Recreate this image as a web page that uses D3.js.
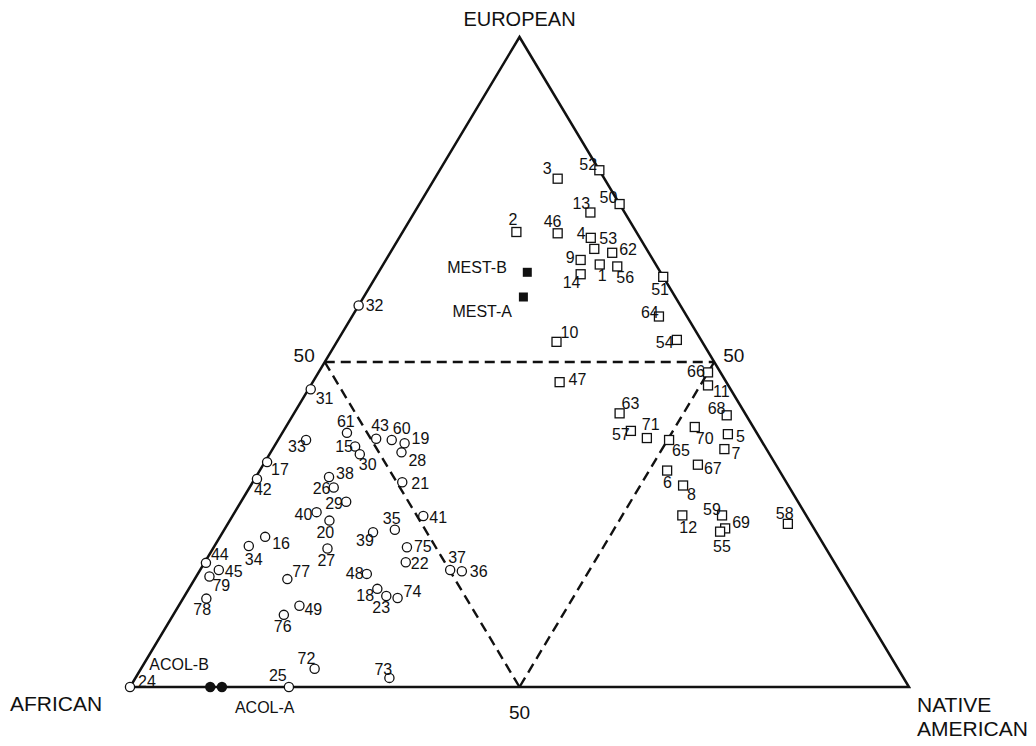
<!DOCTYPE html>
<html>
<head>
<meta charset="utf-8">
<script src="https://cdn.jsdelivr.net/npm/d3@7"></script>
<style>
  html, body { margin: 0; padding: 0; background: #fff; }
  svg { display: block; font-family: "Liberation Sans", Arial, sans-serif; }
</style>
</head>
<body>
<svg id="chart" width="1036" height="746"></svg>
<script>
// Admixture proportions (%) per population: European and Native American shares;
// the African share is the remainder to 100.

// Mestizo populations (open squares)
const mestizoIds = [3, 52, 50, 13, 2, 46, 4, 53, 62, 9, 1, 56, 14, 51, 64, 54, 10, 47,
  66, 11, 63, 68, 57, 71, 70, 5, 65, 7, 67, 6, 8, 59, 12, 69, 55, 58];
const mestizoEuropean = [78.2, 79.5, 74.3, 73.0, 70.0, 69.8, 69.1, 67.4, 66.8, 65.7, 65.0, 64.7, 63.5, 63.1, 57.0, 53.4, 53.1, 46.9,
  48.4, 46.4, 42.1, 41.8, 39.4, 38.3, 40.0, 38.9, 38.0, 36.6, 34.2, 33.3, 31.0, 26.4, 26.4, 24.4, 23.9, 25.1];
const mestizoNative = [15.8, 20.5, 25.7, 22.6, 14.6, 20.0, 24.6, 25.9, 28.5, 25.0, 27.8, 30.2, 26.1, 36.9, 39.4, 43.5, 28.2, 31.7,
  50.0, 51.0, 41.8, 55.7, 44.6, 47.2, 52.5, 57.3, 50.2, 58.0, 55.8, 52.3, 55.5, 62.8, 57.7, 64.2, 63.8, 71.9];

// Afro-descendant populations (open circles)
const afroIds = [32, 31, 61, 43, 60, 19, 33, 15, 30, 28, 17, 42, 38, 26, 21, 29, 40, 20, 41, 35, 39, 16,
  75, 27, 22, 37, 36, 48, 77, 18, 23, 74, 49, 76, 34, 44, 45, 79, 78, 72, 73, 25, 24];
const afroEuropean = [58.7, 45.8, 39.1, 38.2, 38.0, 37.5, 38.0, 37.0, 35.8, 36.1, 34.6, 32.0, 32.3, 30.7, 31.5, 28.5, 26.9, 25.6, 26.3, 24.2, 23.8, 23.1,
  21.5, 21.3, 19.2, 18.0, 17.8, 17.4, 16.6, 15.1, 14.0, 13.7, 12.5, 11.1, 21.7, 19.1, 18.0, 17.0, 13.6, 2.8, 1.4, 0, 0];
const afroNative = [0, 0.3, 8.3, 12.5, 14.6, 16.5, 3.6, 10.4, 11.6, 16.8, 0.3, 0.3, 9.4, 10.8, 19.2, 13.5, 10.5, 12.8, 24.5, 21.9, 19.3, 5.8,
  24.8, 14.7, 25.8, 32.1, 33.7, 21.7, 11.9, 24.2, 25.9, 27.5, 15.5, 14.2, 4.4, 0.2, 2.4, 1.7, 3.0, 22.3, 32.6, 20.4, 0];

// Parental reference samples (filled markers)
const mestRefNames = ["MEST-B", "MEST-A"];
const mestRefEuropean = [63.8, 60.0];
const mestRefNative = [19.1, 20.5];
const acolNames = ["ACOL-B", "ACOL-A"];
const acolEuropean = [0, 0];
const acolNative = [10.3, 11.8];

// Vertex titles and the 50% marks
const vertexNames = { top: ["EUROPEAN"], left: ["AFRICAN"], right: ["NATIVE", "AMERICAN"] };
const halfLabel = "50";

// Label placement (text start and baseline relative to marker centre)
const labelOffset = {
  3: [-15, -5], 52: [-20, 0], 50: [-20, -1], 13: [-18, -4], 2: [-8, -7], 46: [-14, -6], 4: [-14, 1],
  53: [5, -5], 62: [7, 2], 9: [-15, 3], 1: [-2, 16], 56: [-1, 17], 14: [-18, 14], 51: [-12, 18],
  64: [-18, 1], 54: [-21, 8], 10: [4, -4], 47: [9, 3], 66: [-21, 5], 11: [5, 12], 63: [2, -4],
  68: [-19, -1], 57: [-19, 9], 71: [-5, -8], 70: [1, 17], 5: [8, 8], 65: [3, 16], 7: [7, 10],
  67: [6, 9], 6: [-4, 17], 8: [4, 14], 59: [-19, 0], 12: [-3, 18], 69: [7, 0], 55: [-7, 20], 58: [-12, -5],
  32: [7, 6], 31: [5, 15], 61: [-10, -6], 43: [-5, -8], 60: [1, -6], 19: [7, 1], 33: [-18, 12],
  15: [-20, 5], 30: [-1, 16], 28: [7, 14], 17: [4, 13], 42: [-3, 16], 38: [7, 2], 26: [-21, 7],
  21: [9, 7], 29: [-21, 7], 40: [-22, 8], 20: [-13, 17], 41: [6, 7], 35: [-12, -6], 39: [-17, 14],
  16: [7, 12], 75: [7, 5], 27: [-10, 17], 22: [5, 7], 37: [-2, -7], 36: [8, 6], 48: [-21, 5],
  77: [5, -2], 18: [-21, 12], 23: [-14, 17], 74: [6, -1], 49: [5, 9], 76: [-10, 17], 34: [-4, 19],
  44: [5, -3], 45: [6, 7], 79: [3, 14], 78: [-13, 16], 72: [-17, -5], 73: [-15, -3], 25: [-20, -6],
  24: [8, 0]
};
const refLabelOffset = { "MEST-B": [-80, 1], "MEST-A": [-71, 20], "ACOL-B": [-61, -17], "ACOL-A": [13, 26] };

// ---- Ternary frame ----
const svg = d3.select("#chart");
const frameLeft = 130, frameRight = 909, frameBottom = 687, frameTop = 37;

// Horizontal position from (Native + European/2); vertical from European share
const xS = d3.scaleLinear().domain([0, 100]).range([frameLeft, frameRight]);
const yS = d3.scaleLinear().domain([0, 100]).range([frameBottom, frameTop]);
const proj = (eur, nat) => [xS(nat + eur / 2), yS(eur)];

const vTop = proj(100, 0), vLeft = proj(0, 0), vRight = proj(0, 100);
const mLeft = proj(50, 0), mRight = proj(50, 50), mBottom = proj(0, 50);

// Dashed 50% sub-triangle
const dashed = svg.append("g")
  .attr("fill", "none").attr("stroke", "#111").attr("stroke-width", 2.4)
  .attr("stroke-dasharray", "10,6");
dashed.append("path").attr("d", d3.line()([mLeft, mRight]));
dashed.append("path").attr("d", d3.line()([mLeft, mBottom]));
dashed.append("path").attr("d", d3.line()([mRight, mBottom]));

// Outer triangle
svg.append("path")
  .attr("d", d3.line()([vTop, vRight, vLeft]) + "Z")
  .attr("fill", "none").attr("stroke", "#111").attr("stroke-width", 2.5)
  .attr("stroke-linejoin", "miter");

// Vertex titles
const titleG = svg.append("g").attr("fill", "#111").attr("font-size", 20);
titleG.append("text").attr("x", vTop[0]).attr("y", 26).attr("text-anchor", "middle")
  .text(vertexNames.top[0]);
titleG.append("text").attr("x", 10).attr("y", 711).attr("font-size", 21).text(vertexNames.left[0]);
vertexNames.right.forEach((t, i) => {
  titleG.append("text").attr("x", 917).attr("y", 712 + i * 24).attr("font-size", 21).text(t);
});

// 50% tick labels
const halfG = svg.append("g").attr("fill", "#111").attr("font-size", 19);
halfG.append("text").attr("x", mLeft[0] - 10).attr("y", mLeft[1]).attr("text-anchor", "end").text(halfLabel);
halfG.append("text").attr("x", mRight[0] + 9).attr("y", mRight[1]).text(halfLabel);
halfG.append("text").attr("x", mBottom[0]).attr("y", mBottom[1] + 32).attr("text-anchor", "middle").text(halfLabel);

// ---- Markers ----
const mestizo = mestizoIds.map((id, i) => ({ id, eur: mestizoEuropean[i], nat: mestizoNative[i] }));
const afro = afroIds.map((id, i) => ({ id, eur: afroEuropean[i], nat: afroNative[i] }));
const mestRef = mestRefNames.map((name, i) => ({ name, eur: mestRefEuropean[i], nat: mestRefNative[i] }));
const acol = acolNames.map((name, i) => ({ name, eur: acolEuropean[i], nat: acolNative[i] }));

const sq = 9, rc = 4.6;

svg.append("g").selectAll("rect").data(mestizo).join("rect")
  .attr("x", d => proj(d.eur, d.nat)[0] - sq / 2)
  .attr("y", d => proj(d.eur, d.nat)[1] - sq / 2)
  .attr("width", sq).attr("height", sq)
  .attr("fill", "#fff").attr("stroke", "#111").attr("stroke-width", 1.3);

svg.append("g").selectAll("circle").data(afro).join("circle")
  .attr("cx", d => proj(d.eur, d.nat)[0])
  .attr("cy", d => proj(d.eur, d.nat)[1])
  .attr("r", rc)
  .attr("fill", "#fff").attr("stroke", "#111").attr("stroke-width", 1.3);

svg.append("g").selectAll("rect").data(mestRef).join("rect")
  .attr("x", d => proj(d.eur, d.nat)[0] - 4.5)
  .attr("y", d => proj(d.eur, d.nat)[1] - 4.5)
  .attr("width", 9).attr("height", 9)
  .attr("fill", "#111");

svg.append("g").selectAll("circle").data(acol).join("circle")
  .attr("cx", d => proj(d.eur, d.nat)[0])
  .attr("cy", d => proj(d.eur, d.nat)[1])
  .attr("r", 5.2)
  .attr("fill", "#111");

// ---- Labels ----
const numG = svg.append("g").attr("fill", "#111").attr("font-size", 16);
numG.selectAll("text").data(mestizo.concat(afro)).join("text")
  .attr("x", d => proj(d.eur, d.nat)[0] + labelOffset[d.id][0])
  .attr("y", d => proj(d.eur, d.nat)[1] + labelOffset[d.id][1])
  .text(d => d.id);

const refG = svg.append("g").attr("fill", "#111").attr("font-size", 16);
refG.selectAll("text").data(mestRef.concat(acol)).join("text")
  .attr("x", d => proj(d.eur, d.nat)[0] + refLabelOffset[d.name][0])
  .attr("y", d => proj(d.eur, d.nat)[1] + refLabelOffset[d.name][1])
  .text(d => d.name);
</script>
</body>
</html>
